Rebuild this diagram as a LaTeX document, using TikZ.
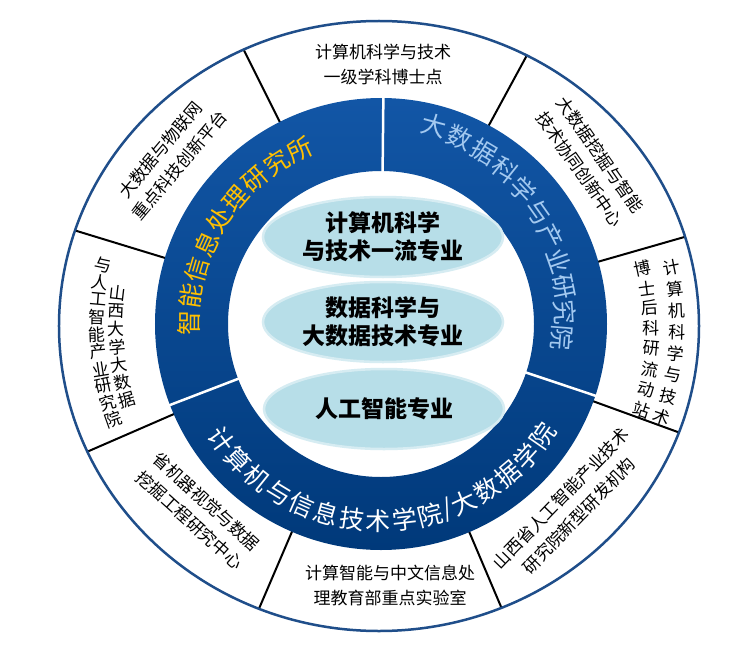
\documentclass[tikz,border=0pt]{standalone}
\usepackage{fontspec}
\setmainfont{Noto Sans CJK SC}
\definecolor{ringtop}{RGB}{18,86,166}
\definecolor{ringbot}{RGB}{0,57,122}
\definecolor{majfill}{RGB}{183,222,232}
\definecolor{majedge}{RGB}{214,236,242}
\definecolor{rimblue}{RGB}{31,78,138}
\definecolor{mygold}{RGB}{255,192,0}
\definecolor{mysky}{RGB}{163,201,240}
\usetikzlibrary{shapes}

\begin{document}
\begin{tikzpicture}[x=1pt,y=1pt,
    majnode/.style={ellipse,fill=majfill,draw=majedge,line width=2.5pt,minimum width=240pt,minimum height=80pt,inner sep=0pt,align=center,font=\fontsize{23}{28}\selectfont\bfseries},
    ringchar/.style={inner sep=0pt,font=\fontsize{25}{25}\selectfont},
    segtext/.style={inner sep=0pt,align=center,font=\fontsize{17}{25}\selectfont},
    colchar/.style={inner sep=0pt,font=\fontsize{17}{17}\selectfont}
    ]
    \useasboundingbox (-381,-324) rectangle (349,324);
    \fill[white] (-381,-324) rectangle (349,324);

    % the outer rim and its dividers
    \begin{scope}
    \clip (-2,-2) ellipse [x radius=320pt,y radius=305pt];
    \foreach \a in {16,61.5,116.6,163,203.5,246.8,293,340}
    \draw[line width=2pt] (\a:220) -- (\a:340);
    \end{scope}
    \draw[rimblue,line width=2.5pt] (-2,-2) ellipse [x radius=320pt,y radius=305pt];

    % the blue ring
    \shade[top color=ringtop,bottom color=ringbot,even odd rule] (0,0) circle (226pt) (0,0) circle (153pt);
    \foreach \a in {89.4,201,-18.5}
    \draw[white,line width=2.5pt] (\a:152) -- (\a:227);

    % the majors
    \node[majnode] (m1) at (2,87) {计算机科学\\与技术一流专业};
    \node[majnode] (m2) at (2,2) {数据科学与\\大数据技术专业};
    \node[majnode] (m3) at (3,-85) {人工智能专业};

    % the texts of the ring
    \foreach \c [count=\i] in {智,能,信,息,处,理,研,究,所} {
    \pgfmathsetmacro\a{179.7-8.1*(\i-1)}
    \node[ringchar,mygold,rotate=\a-90] (inst\i) at (\a:192) {\c};
    }
    \foreach \c [count=\i] in {大,数,据,科,学,与,产,业,研,究,院} {
    \pgfmathsetmacro\a{75.1-7.95*(\i-1)}
    \pgfmathsetmacro\r{205-2.3*(\i-1)}
    \node[ringchar,mysky,rotate=\a-90] (acad\i) at (\a:\r) {\c};
    }
    % the slash takes less room
    \foreach \c [count=\i] in {计,算,机,与,信,息,技,术,学,院,/,大,数,据,学,院} {
    \pgfmathsetmacro\a{216+7.6*(\i-1)-2.3*(\i>10)-2.3*(\i>11)}
    \node[ringchar,white,rotate=\a+90] (coll\i) at (\a:197) {\c};
    }

    % the texts of the rim
    \node[segtext] (top) at (2,260) {计算机科学与技术\\一级学科博士点};
    \node[segtext,rotate=-55] (topright) at (209,162) {大数据挖掘与智能\\技术协同创新中心};
    \node[segtext,rotate=46] (botright) at (189,-183) {山西省人工智能产业技术\\研究院新型研发机构};
    \node[segtext] (bottom) at (9,-261) {计算智能与中文信息处\\理教育部重点实验室};
    \node[segtext,rotate=-42] (botleft) at (-183,-187) {省机器视觉与数据\\挖掘工程研究中心};
    \node[segtext,rotate=50] (topleft) at (-211,166.5) {大数据与物联网\\重点科技创新平台};

    % the columns on the left
    \foreach \c [count=\i] in {山,西,大,学,大,数,据} {
    \pgfmathsetmacro\a{173.3+3.88*(\i-1)}
    \node[colchar,rotate=\a-180] (sx\i) at (\a:265) {\c};
    }
    \foreach \c [count=\i] in {与,人,工,智,能,产,业,研,究,院} {
    \pgfmathsetmacro\a{168+3.52*(\i-1)}
    \node[colchar,rotate=\a-180] (ai\i) at (\a:284) {\c};
    }

    % the columns on the right
    \foreach \c [count=\i] in {计,算,机,科,学,与,技,术} {
    \pgfmathsetmacro\a{11-4.19*(\i-1)}
    \node[colchar,rotate=\a] (jk\i) at (\a:296) {\c};
    }
    \foreach \c [count=\i] in {博,士,后,科,研,流,动,站} {
    \pgfmathsetmacro\a{12-4.31*(\i-1)}
    \pgfmathsetmacro\r{267+1.1*(\i-1)}
    \node[colchar,rotate=\a] (bs\i) at (\a:\r) {\c};
    }
\end{tikzpicture}
\end{document}
